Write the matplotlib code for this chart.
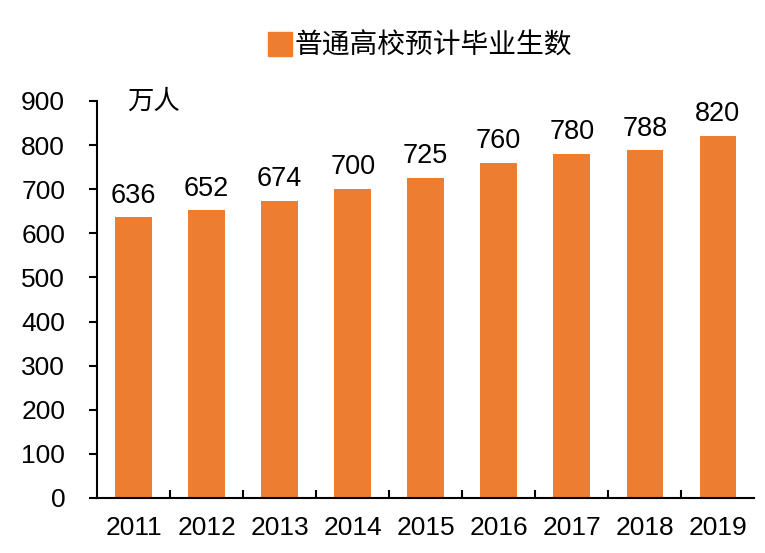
import matplotlib.pyplot as plt
from matplotlib.lines import Line2D

years = ['2011', '2012', '2013', '2014', '2015', '2016', '2017', '2018', '2019']
graduates = [636, 652, 674, 700, 725, 760, 780, 788, 820]
yticks = [0, 100, 200, 300, 400, 500, 600, 700, 800, 900]

plt.rcParams['font.family'] = ['Liberation Sans', 'Noto Sans CJK SC', 'DejaVu Sans']
orange = '#ED7D31'


def main():
    fig = plt.figure(figsize=(7.65, 5.53), dpi=100)
    ax = fig.add_axes([0.127, 0.0995, 0.859, 0.718])
    x = range(len(years))
    ax.bar(x, graduates, width=0.5, color=orange)
    for i, v in zip(x, graduates):
        ax.text(i, v + 20, str(v), ha='center', va='bottom', fontsize=19.5)

    ax.set_xlim(-0.5, len(years) - 0.5)
    ax.set_ylim(0, 900)
    ax.set_yticks(yticks)
    ax.set_xticks(list(x))
    ax.set_xticklabels(years)
    ax.set_xticks([i + 0.5 for i in range(len(years) - 1)], minor=True)
    ax.tick_params(axis='x', which='major', length=0, labelsize=19, pad=13)
    ax.tick_params(axis='x', which='minor', direction='in', length=6, width=1.5)
    ax.tick_params(axis='y', direction='out', length=6, width=1.5, labelsize=19, pad=17)
    for s in ['top', 'right']:
        ax.spines[s].set_visible(False)
    for s in ['left', 'bottom']:
        ax.spines[s].set_linewidth(1.5)
    ax.text(0.045, 900, '万人', fontsize=19, va='center', ha='left',
            transform=ax.get_yaxis_transform(), family='Noto Sans CJK SC')

    handle = Line2D([], [], marker='s', color=orange, linestyle='none', markersize=17)
    fig.legend([handle], ['普通高校预计毕业生数'], loc='center', bbox_to_anchor=(0.548, 0.918),
               frameon=False, prop={'family': 'Noto Sans CJK SC', 'size': 20},
               handletextpad=0.0, handlelength=1.0)
    fig.savefig('out.png')


if __name__ == "__main__":
    main()
